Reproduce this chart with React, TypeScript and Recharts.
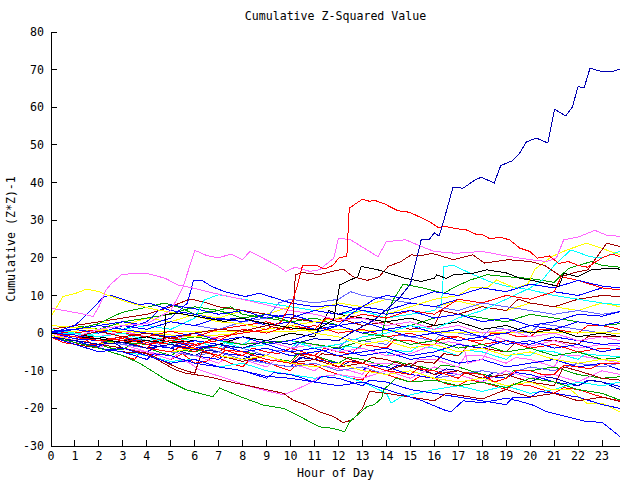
import { LineChart, Line, XAxis, YAxis } from 'recharts';

type Pt = [number, number];

const hourTicks = [0, 1, 2, 3, 4, 5, 6, 7, 8, 9, 10, 11, 12, 13, 14, 15, 16, 17, 18, 19, 20, 21, 22, 23];
const valueTicks = [-30, -20, -10, 0, 10, 20, 30, 40, 50, 60, 70, 80];

const RED = '#ff0000';
const GREEN = '#00a000';
const BLUE = '#0000ff';
const PINK = '#ff66ff';
const CYAN = '#00ffff';
const DKRED = '#a00000';
const YELLOW = '#ffff00';
const BLACK = '#000000';
const SLATE = '#6666ff';
const NAVY = '#0000b0';

// [hour, cumulative value]
const navy1: Pt[] = [[0,-1],[1,-2],[2,-3],[3,-2.5],[4,-4],[5,-3],[6,-4.5],[7,-3],[8,-4],[9,-2],[10,-3],[11,-1.5],[12,-2],[12.5,0],[13.5,3.5],[14.5,9],[15,13],[15.46,25],[15.8,25],[16,26.6],[16.2,25.8],[16.4,30],[16.78,38.8],[17.2,38.5],[17.7,40.7],[17.96,41.4],[18.5,39.9],[18.77,44.5],[19.26,45.8],[19.56,47.8],[19.84,50.8],[20.26,51.8],[20.74,50.5],[21.02,59.5],[21.48,57.7],[21.76,60],[22,65.5],[22.25,65.1],[22.5,70.4],[22.97,69.5],[23.46,69.5],[23.75,70.2]];
const navy2: Pt[] = [[0,-1],[0.5,-2],[1,-2],[1.5,-3],[2,-3],[2.5,-2],[3,-4],[3.5,-4.5],[4,-5],[4.5,-3.5],[5,-4],[5.5,-5],[6,-6],[6.5,-4.5],[7,-5],[7.5,-6],[8,-7],[8.5,-5.5],[9,-6],[9.5,-7],[10,-8],[10.5,-6.5],[11,-7],[11.5,-8],[12,-9],[12.5,-7.5],[13,-8],[13.5,-9],[14,-10],[14.5,-8.5],[15,-9],[15.5,-10],[16,-11],[16.5,-9.5],[17,-10],[17.5,-11],[18,-12],[18.5,-10.5],[19,-11],[19.5,-12],[20,-13],[20.5,-11.5],[21,-12],[21.5,-13],[22,-14],[22.5,-12.5],[23,-13],[23.75,-15]];

const red1: Pt[] = [[0,0],[1,-1],[2,-2],[3,-1.5],[4,-3],[5,-2],[6,-3.5],[7,-1],[8,0],[9,1],[9.6,3],[10.1,8.8],[10.3,13],[10.5,18],[11.1,18],[11.4,17],[11.77,18],[12,19.9],[12.35,20.5],[12.45,33.2],[13,35.6],[13.3,35],[13.5,35.3],[13.93,34.3],[14.48,32.5],[14.97,32.1],[15.8,29.6],[16.2,27.9],[16.4,28.4],[17.06,27.6],[17.3,27.5],[17.8,26.1],[18,26.2],[18.34,25],[18.7,25.5],[19.14,24.8],[19.56,22.6],[19.98,21.7],[20.3,19.9],[20.8,20.5],[21.2,18.5],[21.6,19],[22,18],[22.4,17.5],[23,20],[23.4,21],[23.75,20.3]];
const red2: Pt[] = [[0,-1],[0.5,-2.5],[1,-3],[1.5,-2],[2,-4],[2.5,-5],[3,-6],[3.5,-7],[3.7,-5],[4,-5.5],[4.5,-6],[5,-7],[5.5,-5.5],[6,-8],[6.5,-7.5],[6.8,-6],[7.5,-8],[8,-9],[8.3,-7],[9,-7.5],[9.5,-9],[10,-10],[10.3,-8],[11,-8.5],[11.5,-10],[12,-11],[12.5,-12],[13,-12.5],[13.3,-10],[14,-11],[14.5,-12],[15,-13],[15.4,-11.5],[16,-12],[16.5,-13.5],[17,-14],[17.4,-12.5],[18,-13],[18.5,-14],[19,-15],[19.3,-13.5],[20,-14],[20.5,-15],[21,-16],[21.4,-14.5],[22,-15],[22.5,-16],[23,-17],[23.75,-18]];
const red3: Pt[] = [[0,0],[1,-1],[2,-2],[3,-1],[4,-2.5],[5,-1],[6,-3],[7,-2],[8,1],[9,0],[10,2],[11,1],[11.5,4],[12,3],[13,5],[14,4],[15,6],[16,5],[17,9],[18,8],[19,10],[20,9],[21,11],[21.3,15],[22,14],[23,12],[23.75,11.5]];
const red4: Pt[] = [[0,-0.5],[0.5,-1.5],[1,-2],[1.5,-1],[2,-1.5],[2.5,-2.5],[3,-3],[3.5,-3.5],[4,-4],[4.3,-2.5],[5,-3],[5.5,-4],[6,-5],[6.4,-3.5],[7,-4],[7.5,-5],[8,-6],[8.4,-4],[9,-5],[9.5,-5.5],[10,-4],[10.5,-5],[11,-6],[11.4,-4],[12,-5],[12.5,-5.5],[13,-3],[13.5,-3.5],[14,-4],[14.3,-2],[15,-2],[15.5,-3],[16,-3],[16.4,-1],[17,-1],[17.5,-2],[18,-2],[18.4,0],[19,0],[19.5,-1],[20,-1],[20.4,1],[21,1],[21.5,0.5],[22,0],[22.4,2],[23,2],[23.75,1]];
const red5: Pt[] = [[0,0.5],[1,0],[2,1],[3,0],[4,-1],[5,0.5],[6,-1],[7,1],[8,2],[9,3],[10,1],[11,2],[12,0],[13,1],[14,-1],[15,0],[16,-2],[17,-1],[18,-3],[19,-2],[20,-4],[21,-3],[22,-5],[23,-4],[23.75,-4.5]];
const red6: Pt[] = [[0,-1],[0.5,-1.5],[1,-2],[1.5,-3],[2,-3],[2.4,-1.5],[3,-2],[3.5,-3],[4,-4],[4.5,-4.5],[5,-5],[5.4,-3.5],[6,-4],[6.5,-5],[7,-6],[7.3,-4.5],[8,-5],[8.5,-6],[9,-7],[9.5,-7.5],[10,-8],[10.4,-5.5],[11,-6],[11.5,-7.5],[12,-9],[12.3,-7.5],[13,-8],[13.5,-9],[14,-10],[14.5,-10.5],[15,-11],[15.3,-9.5],[16,-10],[16.5,-11],[17,-12],[17.3,-10.5],[18,-11],[18.5,-13],[19,-12],[19.4,-10],[20,-10],[20.5,-11],[21,-11],[21.4,-8.5],[22,-9],[22.5,-9.5],[23,-8],[23.75,-8]];

const green1: Pt[] = [[0,-1],[1,-2.5],[2,-4],[3,-6],[3.7,-8],[4.8,-12.4],[5.65,-15.1],[6.76,-16.9],[7.04,-14.6],[7.9,-16.9],[8.85,-19.1],[9.7,-20],[10.4,-22.2],[11.2,-24.9],[11.77,-25.3],[12.26,-26.2],[12.47,-23.5],[13.2,-19.5],[13.5,-19],[13.8,-17.3],[13.9,-15],[14.4,-12],[15,-13],[16,-12.5],[17,-14],[18,-13],[19,-14.5],[20,-12],[21,-13],[22,-15],[23,-16],[23.75,-17.8]];
const green2: Pt[] = [[0,0],[1,1],[2,2.5],[2.7,4.8],[3.1,5.7],[4.1,7],[4.75,8],[5.45,6.6],[6,5],[7,6],[7.5,7],[8,5],[9,4],[10,3],[11,1],[12,2],[13,0],[14,-1],[15,-3],[16,-2],[17,-4],[18,-3],[19,-5],[20,-4],[21,-6],[22,-5],[23,-7],[23.75,-6.5]];
const green3: Pt[] = [[0,0],[2,-2],[4,-3],[6,-1],[8,-3],[10,-2],[12,-4],[13,-2],[13.8,-1],[14,5],[14.3,9],[14.7,13],[15.5,12],[16.4,10.6],[16.9,12.4],[17.5,14.1],[18.2,15.5],[19,15],[20,14.5],[21,13.5],[21.6,17.2],[22.55,19],[23,18],[23.75,17.5]];
const green4: Pt[] = [[0,-0.5],[0.5,-1.5],[1,-2],[1.5,-2.5],[2,-3],[2.5,-4],[3,-4.5],[3.3,-3],[4,-4],[4.5,-5],[5,-6],[5.4,-4.5],[6,-5],[6.5,-4],[7,-3],[7.5,-4],[8,-5],[8.5,-5.5],[9,-6],[9.5,-7],[10,-7.5],[10.3,-5.5],[11,-6],[11.5,-7],[12,-8],[12.4,-6.5],[13,-7],[13.5,-8],[14,-9],[14.4,-7.5],[15,-8.5],[15.5,-9],[16,-10],[16.3,-8.5],[17,-9],[17.5,-10],[18,-11],[18.5,-11.5],[19,-12],[19.3,-10],[20,-10],[20.5,-9.5],[21,-9],[21.5,-10],[22,-11],[22.5,-11.5],[23,-12],[23.75,-11.6]];
const green5: Pt[] = [[0,1],[1,2],[2,1],[3,3],[4,4],[5,5],[6,7],[7,6],[8,4],[9,5],[10,3],[11,4],[12,2],[13,3],[14,1],[15,2],[16,4],[17,5],[18,4],[19,3],[20,5],[21,4],[22,3],[23,2],[23.75,2.5]];

const blue1: Pt[] = [[0,-1],[1,-3],[2,-5],[3,-4],[4,-6],[5,-8],[6,-7],[7,-9],[8,-10],[9,-11.5],[10,-12],[11,-13],[12,-14],[13,-13],[14,-15],[15,-17],[15.5,-18],[16.4,-20.4],[16.7,-20.9],[17.2,-18],[18,-18.5],[19,-17.3],[19.5,-18],[20.1,-19.1],[20.7,-20.9],[21.5,-22.2],[22.35,-23.5],[23,-23.7],[23.75,-27.5]];
const blue2: Pt[] = [[0,0],[1,2],[1.5,5],[1.75,6.6],[2.2,9.7],[2.5,10],[3,9],[3.7,7.5],[4.1,8],[5,6],[6,5],[7,3.5],[8,4],[9,2],[10,3],[11,1],[12,2],[13,0],[14,1],[15,-1],[16,0],[17,-2],[18,-1],[19,-3],[20,-2],[21,-4],[22,-3],[23,-5],[23.75,-4]];
const blue3: Pt[] = [[0,0.5],[1,1],[2,2],[3,3],[4,2],[5,4],[5.7,8],[5.95,14.1],[6.3,14],[6.7,12.4],[7.25,11],[8.1,9.7],[8.7,10.6],[9.5,9],[10,8],[11,7],[12,7.5],[13,6],[14,5],[15,6],[16,4],[17,5],[18,3],[19,4],[20,2],[21,3],[22,5],[23,4.5],[23.75,5.7]];
const blue4: Pt[] = [[0,0],[1,-1],[2,0],[3,1],[4,3],[4.5,6],[5,7.5],[6,6.5],[7,5],[8,6],[9,4],[10,5],[11,3],[12,2],[13,3],[14,1],[15,2],[16,0],[17,1],[18,-1],[19,0],[20,2],[21,1],[22,3],[23,2],[23.75,3]];
const blue5: Pt[] = [[0,-1],[0.5,-1.5],[1,-2],[1.5,-3],[2,-3.5],[2.4,-2.5],[3,-3],[3.5,-4],[4,-5],[4.4,-3.5],[5,-4],[5.5,-5],[6,-6],[6.5,-6.5],[7,-7],[7.3,-5.5],[8,-6],[8.5,-7],[9,-8],[9.5,-8.5],[10,-9],[10.4,-6.5],[11,-7],[11.5,-7.5],[12,-8],[12.5,-9],[13,-10],[13.3,-8.5],[14,-9],[14.5,-10],[15,-11],[15.5,-11.5],[16,-12],[16.4,-10.5],[17,-11],[17.5,-12],[18,-13],[18.3,-11.5],[19,-12],[19.4,-10.5],[20,-11],[20.5,-12],[21,-13],[21.5,-13.5],[22,-14],[22.4,-12.5],[23,-13],[23.75,-14.2]];
const blue6: Pt[] = [[0,0],[1,-1.5],[2,-2],[3,-1],[4,-3],[5,-2],[6,-4],[7,-3],[8,-5],[9,-4],[10,-6],[11,-5],[12,-4],[13,-6],[14,-5],[15,-7],[16,-6],[17,-8],[18,-7],[19,-9],[20,-8],[21,-7],[22,-9],[23,-8],[23.75,-9.8]];
const blue7: Pt[] = [[0,0],[1,1],[2,0],[3,2],[4,1],[5,3],[6,2],[7,4],[8,3],[9,5],[10,4],[11,6],[12,5],[13,7],[14,6],[15,8],[16,7],[17,9],[18,8],[19,10],[20,9],[21,11],[22,10],[23,12],[23.75,11.5]];
const blue8: Pt[] = [[0,0],[1,1],[2,2],[3,1],[4,0],[5,-1],[6,0],[7,-2],[8,-1],[9,-3],[10,-2],[11,0],[12,2],[12.5,5],[13,7],[13.5,9],[14,10],[15,9],[16,11],[17,10],[18,12],[19,11],[20,13],[21,12],[22,14],[23,12.5],[23.75,12]];
const blue9: Pt[] = [[0,-1],[0.5,-1.5],[1,-2],[1.5,-3],[2,-4],[2.5,-4.5],[3,-5],[3.5,-6],[4,-7],[4.3,-5.5],[5,-6],[5.5,-7],[6,-8],[6.5,-8.5],[7,-9],[7.5,-9.5],[8,-10],[8.5,-11],[9,-12],[9.3,-10.5],[10,-11],[10.5,-12],[11,-13],[11.3,-11.5],[12,-12],[12.5,-13],[13,-14],[13.3,-12.5],[14,-13],[14.5,-14],[15,-15],[15.5,-15.5],[16,-16],[16.5,-16.5],[17,-17],[17.5,-17.5],[18,-18],[18.5,-18.5],[19,-19],[19.3,-17],[20,-17],[20.4,-15.5],[21,-16],[21.5,-16.5],[22,-17],[22.5,-18],[23,-19],[23.75,-20]];
const blue10: Pt[] = [[0,0],[1,-0.5],[2,-2],[3,-1],[4,-3],[5,-4],[6,-2],[7,-3],[8,-4],[9,-3],[10,-5],[11,-4],[12,-6],[13,-5],[14,-4],[15,-6],[16,-5],[17,-3],[18,-4],[19,-2],[20,-3],[21,-1],[22,-2],[23,-3],[23.75,-2.7]];

const pink1: Pt[] = [[0,6.6],[0.8,5.7],[1.4,5],[1.75,4.4],[2,7],[2.3,11.5],[2.5,13],[2.94,15.5],[3.5,15.9],[4.1,15.7],[4.75,14.6],[5.3,12.8],[5.7,12.3],[6.8,10.6],[8.1,8.8],[9,7.5],[10,6],[11,5],[12,3.5],[13,4],[14,2],[15,3],[16,1],[17,2],[18,0],[19,1],[20,-1],[21,0],[22,-2],[23,-1],[23.75,-2]];
const pink2: Pt[] = [[0,0],[1,-1],[2,1],[3,2],[4,2.5],[5,6],[5.5,12],[5.75,17],[6,22],[6.5,20.6],[7,20],[7.5,21],[8,19.5],[8.3,21.7],[9.4,18.1],[9.8,16.4],[10.2,17.5],[10.8,16.4],[11.2,16.8],[11.8,19.9],[12,25.2],[12.5,24.8],[13.65,20.3],[14,24.3],[14.8,24.8],[15.46,23],[16,21.7],[16.9,21.2],[18,21.7],[19,20.5],[20,19.5],[20.7,19],[21.1,20],[21.4,24.8],[22,25.5],[22.7,27.3],[23.2,26],[23.75,25.7]];
const pink3: Pt[] = [[0,0],[1,-2],[2,-3],[3,-4],[4,-5],[5,-6],[5.8,-8],[6.2,-9.8],[7.5,-12.4],[8.3,-14.2],[9.1,-15.5],[9.7,-16.4],[10.2,-15.1],[10.8,-13.3],[11.2,-11.6],[12,-11],[13,-12],[14,-10],[15,-12],[16,-9],[17,-11],[18,-13],[19,-10],[20,-12],[21,-11],[22,-13],[23,-10],[23.75,-11]];
const pink4: Pt[] = [[0,1],[1,0],[2,-1],[3,0.5],[4,-1],[5,-2],[6,0],[7,-1.5],[8,-3],[9,-2],[10,-4],[11,-3],[12,-5],[13,-4],[14,-6],[15,-5.5],[16,-3],[16.6,-2.3],[17.2,-3],[17.4,-8],[18,-7],[18.6,-1],[19,-2],[20,-3.5],[21,-2],[22,-4],[23,-3],[23.75,-3.5]];
const pink5: Pt[] = [[0,-1],[0.5,-2],[1,-2.5],[1.5,-3],[2,-4],[2.4,-2.5],[3,-3],[3.5,-4],[4,-5],[4.5,-6],[5,-7],[5.4,-5],[6,-6],[6.5,-7],[7,-8],[7.3,-6.5],[8,-7],[8.5,-8],[9,-9],[9.4,-7],[10,-8],[10.5,-9],[11,-10],[11.3,-8.5],[12,-9.5],[12.5,-10],[13,-11],[13.3,-8],[14,-8],[14.5,-8.5],[15,-9],[15.3,-7],[16,-7],[16.5,-8],[17,-9],[17.3,-6],[18,-6],[18.5,-7],[19,-8],[19.4,-6.5],[20,-7],[20.5,-8],[21,-9],[21.3,-6],[22,-6],[22.5,-6.5],[23,-7],[23.75,-8]];

const cyan1: Pt[] = [[0,0],[1,-1],[2,0],[3,1],[4,2],[5,1],[6,4],[6.4,8.8],[7,10.2],[8,9],[9,8],[10,7],[11,6],[12,5],[13,6],[14,4],[15,5],[16,6],[16.3,7.7],[16.4,17.7],[16.8,18],[17.5,15.9],[18.3,13.7],[19,12.5],[20,11.5],[21,10],[22,9],[23,8],[23.75,7.5]];
const cyan2: Pt[] = [[0,1],[1,0],[2,-1],[3,0],[4,-2],[5,-1],[6,-3],[7,-2],[8,-4],[9,-3],[10,-2],[11,-4],[12,-3],[13,-1],[14,0],[15,2],[16,1],[17,4],[18,6],[19,9],[20,12],[20.5,14],[21,18],[21.7,22.1],[22.5,20.3],[23,20],[23.75,21.7]];
const cyan3: Pt[] = [[0,-1],[1,-2],[2,-4],[3,-5],[4,-6],[5,-7.5],[6,-7],[7,-9],[8,-8],[9,-10],[10,-11],[11,-12],[12,-11],[13,-13],[14,-16],[14.2,-18.6],[14.6,-17],[15.3,-16],[16,-15],[17,-14],[18,-15.5],[19,-14],[20,-16],[21,-15],[22,-13],[23,-14],[23.75,-13]];
const cyan4: Pt[] = [[0,0.5],[0.5,0],[1,0],[1.5,-1],[2,-1],[2.5,-1.5],[3,-2],[3.4,-0.5],[4,-1],[4.5,-2],[5,-3],[5.3,-1.5],[6,-2],[6.5,-3],[7,-4],[7.3,-2.5],[8,-3],[8.4,-1.5],[9,-2],[9.5,-3],[10,-4],[10.3,-2.5],[11,-3],[11.5,-4],[12,-5],[12.3,-3.5],[13,-4],[13.5,-5],[14,-6],[14.3,-4.5],[15,-5],[15.3,-3.5],[16,-4],[16.5,-5],[17,-6],[17.3,-4.5],[18,-5],[18.5,-6],[19,-7],[19.3,-5.5],[20,-6],[20.3,-4.5],[21,-5],[21.5,-6],[22,-7],[22.3,-5.5],[23,-6],[23.75,-6.2]];

const dkred1: Pt[] = [[0,0],[1,-1],[2,0.5],[3,-1],[4,0],[5,-1.5],[6,0],[7,1],[8,0.5],[9,2],[9.7,1],[10.1,4],[10.2,15.5],[10.5,16.1],[11.2,15.5],[11.8,16.5],[12.2,17],[12.6,15],[13.2,14],[13.7,15],[14.07,17.7],[14.6,19],[15.04,20.8],[15.4,20.5],[15.9,21.2],[16.8,19.5],[17.6,20.8],[18.1,18.6],[19.1,19.5],[20,19],[20.6,18],[21.3,15],[21.8,16],[22.4,16.8],[23.2,23.9],[23.75,23]];
const dkred2: Pt[] = [[0,-1],[1,-2],[2,-3],[3,-4],[4,-5.5],[5.2,-9.8],[5.65,-10.7],[6.5,-11.5],[7.5,-13],[8.7,-14.6],[9.7,-16],[10.1,-17.8],[10.65,-19.1],[11.2,-20.9],[11.8,-22.2],[12.2,-23.8],[12.6,-23],[13,-20],[13.3,-15.5],[14,-16],[15,-17],[16,-18],[16.5,-16],[17,-16.5],[18,-17.5],[19,-15],[20,-17],[21,-16],[22,-18],[23,-17],[23.75,-18.2]];
const dkred3: Pt[] = [[0,-1],[1,-3],[2,-4],[3,-5],[4,-5.3],[5.3,-9.3],[6,-10.7],[6.3,-5],[7,-6],[8,-7.5],[9,-6],[10,-8],[11,-7],[12,-9],[13,-8],[14,-10],[15,-8],[16,-11],[17,-10],[18,-12],[19,-11],[20,-13],[21,-14],[21.4,-9],[22,-10],[23,-12],[23.75,-12.5]];
const dkred4: Pt[] = [[0,1],[1,2],[2,3],[3,4],[4,5],[5,7],[5.7,8.8],[6,8.8],[6.5,8],[7,7],[8,6],[9,5],[10,4],[11,3],[12,4],[13,2],[14,3],[15,1],[16,2],[16.3,6],[17,5],[18,7],[19,6],[19.5,9],[20,8],[21,7],[22,9],[23,10],[23.75,9.7]];
const dkred5: Pt[] = [[0,0],[0.5,-0.5],[1,-1],[1.5,-1.5],[2,-1.5],[2.5,-2.5],[3,-3],[3.4,-1.5],[4,-2],[4.5,-3],[5,-4],[5.4,-2.5],[6,-3],[6.5,-4],[7,-5],[7.4,-3.5],[8,-4],[8.5,-5],[9,-6],[9.3,-4.5],[10,-5],[10.5,-6],[11,-7],[11.3,-5.5],[12,-6],[12.5,-7],[13,-8],[13.4,-6.5],[14,-7],[14.5,-8],[15,-9],[15.3,-7.5],[16,-8],[16.4,-5.5],[17,-6],[17.4,-3.5],[18,-4],[18.5,-4.5],[19,-5],[19.4,-2.5],[20,-3],[20.5,-2],[21,-2],[21.5,-2.5],[22,-3],[22.4,-1],[23,-1],[23.75,-0.9]];

const yellow1: Pt[] = [[0,4.4],[0.5,9.7],[1,10.5],[1.5,11.7],[2,11],[2.3,10.2],[3.1,8.4],[4.1,6.6],[5,5.5],[6,4.5],[7,3],[8,2.5],[9,1],[10,2],[11,0],[12,-1],[13,-3],[14,-2],[15,-4],[16,-3],[17,-5],[18,-4],[19,-6],[20,-5],[21,-7],[22,-8],[23,-7],[23.75,-7.5]];
const yellow2: Pt[] = [[0,-0.5],[1,-2],[2,-3],[3,-2],[4,-4],[5,-5],[6,-4],[7,-6],[8,-7],[9,-6],[10,-8],[11,-9],[12,-8],[13,-10],[14,-11],[15,-10],[16,-12],[17,-13],[18,-12],[19,-14],[20,-13],[20.95,-15.1],[21.7,-15.1],[22.35,-18.6],[23,-18.6],[23.75,-21]];
const yellow3: Pt[] = [[0,2],[2,1],[4,0],[6,-1],[8,0],[10,2],[12,4],[13,6],[14,5],[15,7],[16,9],[17,10],[17.5,12],[18.2,12],[18.6,14.1],[19,13],[19.4,11.9],[19.9,13],[20.2,17],[20.9,20.3],[21.5,22],[22.35,23.9],[23,22.5],[23.75,20.8]];
const yellow4: Pt[] = [[0,0.5],[2,0.6],[4,0.4],[6,0.5],[8,0.3],[10,0.5],[12,0.9],[14,0.6],[16,0.3],[18,0.2],[20,0.3],[22,0.1],[23.75,0]];
const yellow5: Pt[] = [[0,1],[1,2],[2,3],[3,2],[4,4],[5,3],[6,5],[7,4],[8,6],[9,5],[10,7],[11,6],[12,8],[13,7],[14,9],[15,8],[16,7],[17,8.5],[18,7],[19,6],[20,8],[21,7],[22,6],[23,8],[23.75,7]];

const black1: Pt[] = [[0,0],[1,-1],[2,-1.5],[3,-2.5],[4,-2],[4.7,-2.5],[4.8,5],[5.3,5.3],[6,4.5],[7.25,3.1],[7.9,4],[9,2.5],[10.1,1.3],[11.1,0.9],[11.8,3.5],[12.05,12.8],[12.8,15],[12.95,17.7],[13.65,16.8],[14.76,14.6],[15.46,13.7],[16,14.6],[16.1,15.5],[16.5,14.5],[16.8,15.5],[17.6,15.9],[18.2,16.8],[19,16],[19.56,14.6],[20,14.1],[21.2,12.4],[21.4,15.9],[22,15],[22.55,16.8],[23.25,17.2],[23.75,17]];
const black2: Pt[] = [[0,0],[1,-0.5],[2,-1],[3,-2],[4,-1],[5,-2.5],[6,-2],[7,-3],[8,-1],[9,-2],[10,0],[11,-1],[11.6,6],[12,5],[13,4],[14,3],[15,4],[16,2],[17,3],[18,1],[19,2],[20,0],[21,1],[22,-1],[23,0],[23.75,-1]];

const slate1: Pt[] = [[0,0],[1,-1],[2,1],[3,2],[4,1],[5,3],[6,2],[7,1],[8,3],[9,4],[9.5,8],[10,9],[11,8],[12,9],[12.5,11],[13,10],[14,9],[15,8],[16,7],[17,6],[18,8],[19,7],[20,6],[21,5],[22,6],[23,5],[23.75,5.7]];
const slate2: Pt[] = [[0,-1],[0.5,-1.5],[1,-2],[1.4,-1],[2,-1.5],[2.5,-2.5],[3,-3],[3.3,-1.5],[4,-2],[4.5,-3],[5,-4],[5.3,-2.5],[6,-3],[6.5,-4],[7,-5],[7.3,-3.5],[8,-4],[8.5,-5],[9,-6],[9.3,-4.5],[10,-5],[10.4,-2.5],[11,-3],[11.5,-3.5],[12,-4],[12.4,-1.5],[13,-2],[13.5,-2.5],[14,-3],[14.4,-0.5],[15,-1],[15.5,-1.5],[16,-2],[16.4,0.5],[17,0],[17.5,-0.5],[18,-1],[18.4,1.5],[19,1],[19.5,0.5],[20,0],[20.4,2.5],[21,2],[21.5,1.5],[22,1],[22.5,0.5],[23,0],[23.75,1]];
const slate3: Pt[] = [[0,0],[1,-1],[2,-2],[3,-3],[4,-4],[5,-5],[6,-6],[7,-5],[8,-7],[9,-8],[10,-9],[11,-8],[12,-10],[13,-9],[14,-11],[15,-10],[16,-12],[17,-11],[18,-10],[19,-11],[20,-9],[21,-10],[22,-8],[23,-9],[23.75,-8]];

const series: { pts: Pt[]; color: string }[] = [
  { pts: red2, color: RED },
  { pts: green4, color: GREEN },
  { pts: blue5, color: BLUE },
  { pts: pink5, color: PINK },
  { pts: cyan4, color: CYAN },
  { pts: dkred5, color: DKRED },
  { pts: yellow5, color: YELLOW },
  { pts: slate2, color: SLATE },
  { pts: navy2, color: NAVY },
  { pts: red4, color: RED },
  { pts: green5, color: GREEN },
  { pts: blue6, color: BLUE },
  { pts: pink4, color: PINK },
  { pts: cyan3, color: CYAN },
  { pts: dkred4, color: DKRED },
  { pts: yellow4, color: YELLOW },
  { pts: slate3, color: SLATE },
  { pts: red5, color: RED },
  { pts: green2, color: GREEN },
  { pts: blue4, color: BLUE },
  { pts: pink3, color: PINK },
  { pts: cyan1, color: CYAN },
  { pts: dkred3, color: DKRED },
  { pts: yellow2, color: YELLOW },
  { pts: slate1, color: SLATE },
  { pts: black2, color: BLACK },
  { pts: red6, color: RED },
  { pts: green3, color: GREEN },
  { pts: blue7, color: BLUE },
  { pts: blue9, color: BLUE },
  { pts: blue10, color: BLUE },
  { pts: cyan2, color: CYAN },
  { pts: dkred2, color: DKRED },
  { pts: yellow3, color: YELLOW },
  { pts: red3, color: RED },
  { pts: blue8, color: BLUE },
  { pts: blue2, color: BLUE },
  { pts: blue3, color: BLUE },
  { pts: yellow1, color: YELLOW },
  { pts: pink1, color: PINK },
  { pts: green1, color: GREEN },
  { pts: blue1, color: BLUE },
  { pts: dkred1, color: DKRED },
  { pts: black1, color: BLACK },
  { pts: pink2, color: PINK },
  { pts: red1, color: RED },
  { pts: navy1, color: NAVY },
];

const FONT = '"DejaVu Sans Mono", monospace';
const tickStyle = { fontSize: 11.6, fill: '#000', fontFamily: FONT };

export default function App() {
  return (
    <div style={{ position: 'absolute', left: 0, top: 0, width: 640, height: 480, background: '#fff', shapeRendering: 'crispEdges' }}>
      <LineChart width={640} height={480} margin={{ top: 32, right: 20, bottom: 0, left: 0 }}>
        <XAxis
          dataKey="h"
          type="number"
          domain={[0, 23.75]}
          ticks={hourTicks}
          interval={0}
          height={34}
          tickSize={-6}
          tickMargin={12}
          tick={tickStyle}
          stroke="#000"
          allowDataOverflow
        />
        <XAxis
          xAxisId="top"
          orientation="top"
          type="number"
          domain={[0, 23.75]}
          ticks={hourTicks}
          interval={0}
          height={0}
          tickSize={-6}
          tick={false}
          stroke="#000"
        />
        <YAxis
          type="number"
          domain={[-30, 80]}
          ticks={valueTicks}
          interval={0}
          width={51}
          tickSize={-6}
          tickMargin={13}
          tick={tickStyle}
          stroke="#000"
          allowDataOverflow
        />
        <YAxis
          yAxisId="right"
          orientation="right"
          type="number"
          domain={[-30, 80]}
          ticks={valueTicks}
          interval={0}
          width={0}
          tickSize={-6}
          tick={false}
          stroke="#000"
        />
        {series.map((s, i) => (
          <Line
            key={i}
            data={s.pts.map(([h, v]) => ({ h, v }))}
            dataKey="v"
            type="linear"
            stroke={s.color}
            strokeWidth={1}
            dot={false}
            activeDot={false}
            isAnimationActive={false}
          />
        ))}
      </LineChart>
      <div style={{ position: 'absolute', left: 51, width: 569, top: 10, textAlign: 'center', fontFamily: FONT, fontSize: 11.6, lineHeight: '12px' }}>
        Cumulative Z-Squared Value
      </div>
      <div style={{ position: 'absolute', left: 51, width: 569, top: 467, textAlign: 'center', fontFamily: FONT, fontSize: 11.6, lineHeight: '12px' }}>
        Hour of Day
      </div>
      <div
        style={{
          position: 'absolute',
          left: 11,
          top: 239,
          transform: 'translate(-50%, -50%) rotate(-90deg)',
          whiteSpace: 'nowrap',
          fontFamily: FONT,
          fontSize: 11.6,
          lineHeight: '12px',
        }}
      >
        Cumulative (Z*Z)-1
      </div>
    </div>
  );
}
